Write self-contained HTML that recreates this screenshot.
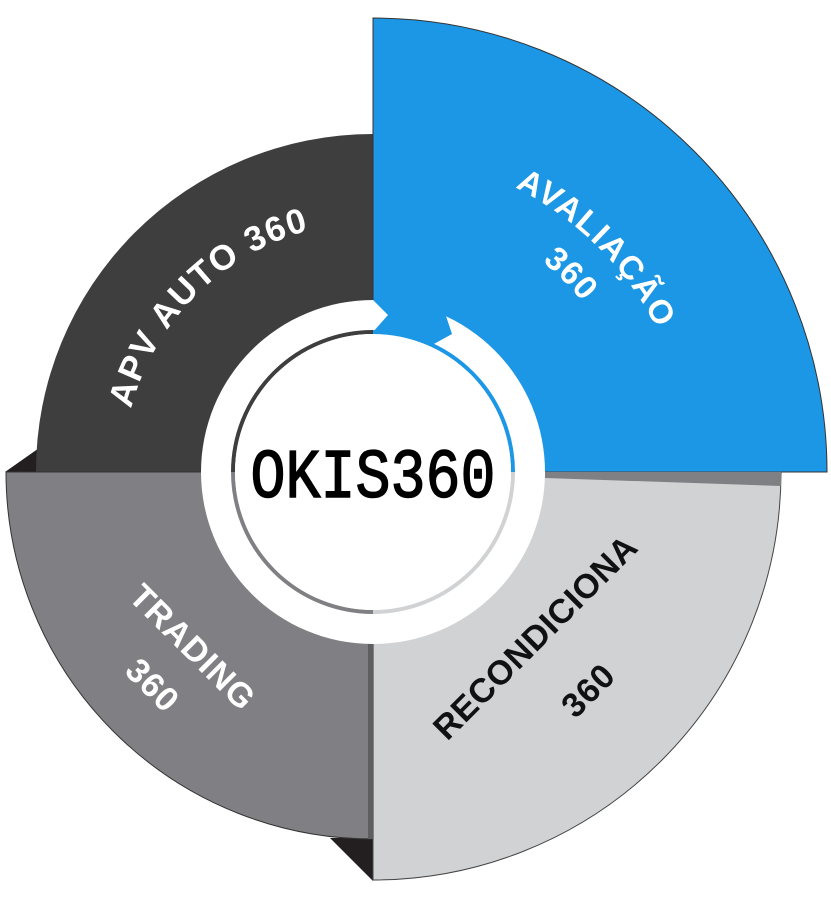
<!DOCTYPE html>
<html><head><meta charset="utf-8"><style>
html,body{margin:0;padding:0;background:#fff;}
svg{display:block;}
text{font-family:"Liberation Sans","DejaVu Sans",sans-serif;font-weight:bold;}
</style></head><body>
<svg width="831" height="900" viewBox="0 0 831 900" xmlns="http://www.w3.org/2000/svg">
<defs>
<path id="apv" d="M123,472 A250,250 0 0 1 373,222"/>
<path id="ava" d="M55,472 A318,318 0 0 1 691,472"/>
<path id="ava2" d="M103,472 A270,270 0 0 1 643,472"/>
</defs>
<polygon points="42,446 5,472 42,472" fill="#231f20"/>
<polygon points="330,838 373,881 373,838" fill="#231f20"/>
<path d="M373,472 L36,472 A337,337 0 0 1 373,134 Z" fill="#3e3e3f"/>
<path d="M373,472 L373,18 A454,454 0 0 1 827,472 Z" fill="#1c97e6" stroke="#333" stroke-width="1"/>
<path d="M373,472 L781,472 A408,408 0 0 1 373,880 Z" fill="#d1d2d4" stroke="#444" stroke-width="1"/>
<path d="M373,472 L373,839 A367,367 0 0 1 6,472 Z" fill="#808084" stroke="#333" stroke-width="1"/>
<polygon points="545,472 781,472 781,486 545,478" fill="#7f8083"/>
<rect x="368" y="600" width="5" height="239" fill="#5e5e61"/>
<circle cx="373" cy="472" r="172" fill="#fff"/>
<path d="M373,300 L388,315 L373,332 L373,338 A135,135 0 0 1 432,345 L452,334 L445,313 A172,172 0 0 0 373,300 Z" fill="#1c97e6"/>
<path d="M373,332 A140,140 0 0 0 233,472" fill="none" stroke="#3e3e3f" stroke-width="4"/>
<path d="M373,332 A140,140 0 0 1 513,472" fill="none" stroke="#1c97e6" stroke-width="4"/>
<path d="M233,472 A140,140 0 0 0 373,612" fill="none" stroke="#808084" stroke-width="4"/>
<path d="M513,472 A140,140 0 0 1 373,612" fill="none" stroke="#d1d2d4" stroke-width="4"/>
<circle cx="373" cy="472" r="138" fill="#fff"/>
<text x="373" y="497" text-anchor="middle" font-size="70" textLength="245" lengthAdjust="spacingAndGlyphs" stroke="#000" stroke-width="1.5" style="font-family:'Liberation Mono','DejaVu Sans Mono',monospace;font-weight:normal" fill="#000">OKIS360</text>
<text font-size="35" fill="#fff" letter-spacing="1.5"><textPath href="#apv" startOffset="50%" text-anchor="middle">APV AUTO 360</textPath></text>
<text font-size="33" fill="#fff" letter-spacing="1.5"><textPath href="#ava" startOffset="75%" text-anchor="middle">AVALIAÇÃO</textPath></text>
<text font-size="33" fill="#fff" letter-spacing="1"><textPath href="#ava2" startOffset="75%" text-anchor="middle">360</textPath></text>
<text x="0" y="12" font-size="34" fill="#fff" letter-spacing="1" text-anchor="middle" transform="translate(193,647) rotate(45)">TRADING</text>
<text x="0" y="12" font-size="34" fill="#fff" letter-spacing="1" text-anchor="middle" transform="translate(153,685) rotate(45)">360</text>
<text x="0" y="12" font-size="34" fill="#111" letter-spacing="0.5" text-anchor="middle" transform="translate(535,637) rotate(-45)">RECONDICIONA</text>
<text x="0" y="12" font-size="34" fill="#111" letter-spacing="1" text-anchor="middle" transform="translate(588,690) rotate(-45)">360</text>
</svg>
</body></html>
